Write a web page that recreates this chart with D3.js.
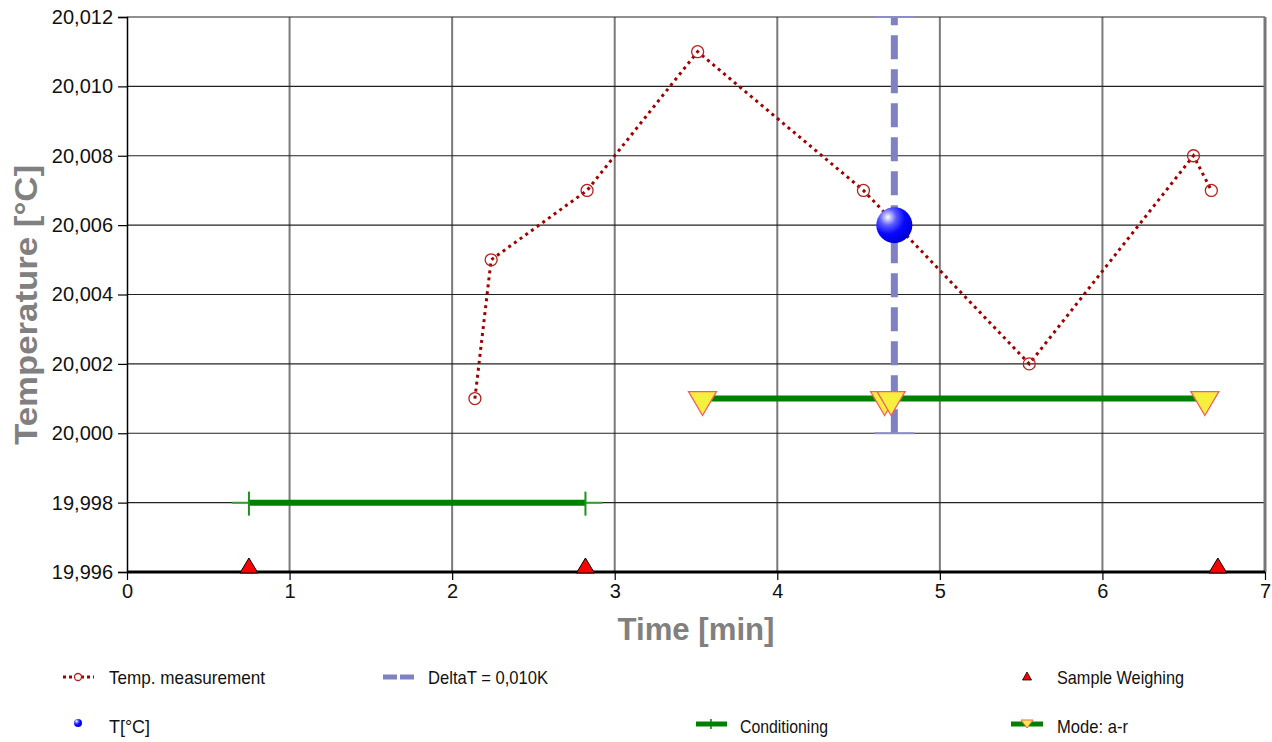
<!DOCTYPE html>
<html><head><meta charset="utf-8">
<script src="https://cdn.jsdelivr.net/npm/d3@7"></script>
<style>body{margin:0;background:#fff}svg{display:block}text{font-family:"Liberation Sans",Arial,sans-serif}</style>
</head><body><svg id="c" width="1272" height="742"></svg>
<script>
const xTicks = [0,1,2,3,4,5,6,7];
const yTicks = [19.996,19.998,20.000,20.002,20.004,20.006,20.008,20.010,20.012];
const tempTime = [2.14,2.24,2.83,3.51,4.53,5.55,6.56,6.67];
const tempVal = [20.001,20.005,20.007,20.011,20.007,20.002,20.008,20.007];
const pointTime = [4.72];
const pointVal = [20.006];
const deltaTime = [4.72,4.72];
const deltaVal = [20.000,20.012];
const condTime = [0.75,2.82];
const condVal = [19.998,19.998];
const modeTime = [3.54,4.66,4.70,6.63];
const modeVal = [20.001,20.001,20.001,20.001];
const weighTime = [0.75,2.82,6.71];
const weighVal = [19.996,19.996,19.996];
const legendLabels = ["Temp. measurement","DeltaT = 0,010K","Sample Weighing","T[°C]","Conditioning","Mode: a-r"];

const svg = d3.select("#c");
const L=127,R=1265,T=17,B=572;
const x = d3.scaleLinear().domain([0,7]).range([L,R]);
const y = d3.scaleLinear().domain([19.996,20.012]).range([B,T]);
const fmt = v => d3.format(".3f")(v).replace(".",",");

const defs = svg.append("defs");
const g1 = defs.append("radialGradient").attr("id","ball").attr("cx","0.32").attr("cy","0.28").attr("r","0.78");
g1.append("stop").attr("offset","0").attr("stop-color","#ffffff");
g1.append("stop").attr("offset","0.3").attr("stop-color","#5a5aff");
g1.append("stop").attr("offset","0.6").attr("stop-color","#0808ff");
g1.append("stop").attr("offset","1").attr("stop-color","#0000d0");

// grid
svg.append("g").selectAll("line").data(xTicks.slice(1,-1)).join("line")
  .attr("x1",d=>x(d)).attr("x2",d=>x(d)).attr("y1",T).attr("y2",B)
  .attr("stroke","#7a7a7a").attr("stroke-width",2);
svg.append("g").selectAll("line").data(yTicks.slice(1)).join("line")
  .attr("x1",L).attr("x2",R).attr("y1",d=>y(d)).attr("y2",d=>y(d))
  .attr("stroke","#222").attr("stroke-width",1.2);
svg.append("line").attr("x1",R).attr("x2",R).attr("y1",T).attr("y2",B).attr("stroke","#777").attr("stroke-width",3);

// axes
const yAxis = d3.axisLeft(y).tickValues(yTicks).tickFormat(fmt).tickSize(9).tickPadding(5);
const ya = svg.append("g").attr("transform",`translate(${L},0)`).call(yAxis);
ya.select(".domain").attr("stroke","#000").attr("stroke-width",1.5);
ya.selectAll(".tick line").attr("stroke","#000").attr("stroke-width",1.2);
ya.selectAll("text").attr("font-size",20).attr("fill","#111").style("font-family","'Liberation Sans',Arial,sans-serif");
const xAxis = d3.axisBottom(x).tickValues(xTicks).tickFormat(d3.format("d")).tickSize(8).tickPadding(4);
const xa = svg.append("g").attr("transform",`translate(0,${B})`).call(xAxis);
xa.select(".domain").remove();
xa.selectAll(".tick line").attr("stroke","#000").attr("stroke-width",1.2);
xa.selectAll("text").attr("font-size",20).attr("fill","#111").style("font-family","'Liberation Sans',Arial,sans-serif");
svg.append("line").attr("x1",L).attr("x2",R).attr("y1",B).attr("y2",B).attr("stroke","#000").attr("stroke-width",3);

// titles
svg.append("text").attr("x",696).attr("y",640).attr("text-anchor","middle")
  .attr("font-size",31).attr("font-weight","bold").attr("fill","#808080")
  .attr("textLength",157).attr("lengthAdjust","spacingAndGlyphs").text("Time [min]");
svg.append("text").attr("transform",`translate(37,305) rotate(-90)`).attr("text-anchor","middle")
  .attr("font-size",31).attr("font-weight","bold").attr("fill","#808080")
  .attr("textLength",280).attr("lengthAdjust","spacingAndGlyphs").text("Temperature [°C]");

// Conditioning
const cond = condTime.map((t,i)=>[t,condVal[i]]);
svg.append("line").attr("x1",x(condTime[0])-17).attr("x2",x(condTime[1])+17)
  .attr("y1",y(19.998)).attr("y2",y(19.998)).attr("stroke","#3a9a3a").attr("stroke-width",2);
svg.append("path").attr("d",d3.line().x(d=>x(d[0])).y(d=>y(d[1]))(cond))
  .attr("stroke","#008000").attr("stroke-width",6).attr("fill","none");
svg.append("g").selectAll("line").data(cond).join("line")
  .attr("x1",d=>x(d[0])).attr("x2",d=>x(d[0])).attr("y1",d=>y(d[1])-11).attr("y2",d=>y(d[1])+13)
  .attr("stroke","#1f8f1f").attr("stroke-width",2);

// Mode a-r
const mode = modeTime.map((t,i)=>[t,modeVal[i]]);
svg.append("path").attr("d",d3.line().x(d=>x(d[0])).y(d=>y(d[1]))([mode[0],mode[mode.length-1]]))
  .attr("stroke","#008000").attr("stroke-width",6).attr("fill","none");

// Delta T
const dX = x(deltaTime[0]);
svg.append("line").attr("x1",dX).attr("x2",dX).attr("y1",y(deltaVal[0])).attr("y2",y(deltaVal[1]))
  .attr("stroke","#8080c4").attr("stroke-width",7).attr("stroke-dasharray","24,10");
svg.append("g").selectAll("line").data(deltaVal).join("line")
  .attr("x1",dX-20).attr("x2",dX+20).attr("y1",d=>y(d)).attr("y2",d=>y(d))
  .attr("stroke","#8c8ccc").attr("stroke-width",2);

// mode triangles
const triDown = (cx,cy)=>`M${cx-14},${cy-9}L${cx+14},${cy-9}L${cx},${cy+15}Z`;
svg.append("g").selectAll("path").data(mode).join("path")
  .attr("d",d=>triDown(x(d[0]),y(d[1])+2)).attr("fill","#f7ef40").attr("stroke","#f06060").attr("stroke-width",1.3);

// Temperature
const temp = tempTime.map((t,i)=>[t,tempVal[i]]);
svg.append("path").attr("d",d3.line().x(d=>x(d[0])).y(d=>y(d[1]))(temp))
  .attr("stroke","#a00000").attr("stroke-width",3).attr("stroke-dasharray","3,4").attr("fill","none");
svg.append("g").selectAll("circle").data(temp).join("circle")
  .attr("cx",d=>x(d[0])).attr("cy",d=>y(d[1])).attr("r",6).attr("fill","none").attr("stroke","#b82020").attr("stroke-width",1.3);

// T ball
svg.append("g").selectAll("circle").data(pointTime.map((t,i)=>[t,pointVal[i]])).join("circle")
  .attr("cx",d=>x(d[0])).attr("cy",d=>y(d[1])).attr("r",18).attr("fill","url(#ball)");

// Sample weighing
const triUp = (cx,cy,w,h)=>`M${cx-w/2},${cy}L${cx+w/2},${cy}L${cx},${cy-h}Z`;
svg.append("g").selectAll("path").data(weighTime.map((t,i)=>[t,weighVal[i]])).join("path")
  .attr("d",d=>triUp(x(d[0]),y(d[1])+1,18,15)).attr("fill","#ff0000").attr("stroke","#000").attr("stroke-width",1);

// Legend
const lg = svg.append("g").attr("font-size",18.5).attr("fill","#111");
const ly1=677, ly2=726;
const addText = (tx,ty,s,w)=>lg.append("text").attr("x",tx).attr("y",ty).attr("textLength",w).attr("lengthAdjust","spacingAndGlyphs").text(s);
lg.append("line").attr("x1",63).attr("x2",94).attr("y1",ly1).attr("y2",ly1).attr("stroke","#a00000").attr("stroke-width",3).attr("stroke-dasharray","3,3");
lg.append("circle").attr("cx",78).attr("cy",ly1).attr("r",3.5).attr("fill","#fff").attr("stroke","#b82020").attr("stroke-width",1.3);
addText(109,ly1+7,legendLabels[0],156);
lg.append("line").attr("x1",383).attr("x2",416).attr("y1",ly1).attr("y2",ly1).attr("stroke","#8080c4").attr("stroke-width",5).attr("stroke-dasharray","14,3");
addText(428,ly1+7,legendLabels[1],120);
lg.append("path").attr("d",triUp(1027,ly1+3,9,8)).attr("fill","#ff0000").attr("stroke","#000").attr("stroke-width",0.8);
addText(1057,ly1+7,legendLabels[2],127);
lg.append("circle").attr("cx",78).attr("cy",ly2-3).attr("r",4).attr("fill","url(#ball)");
addText(109,ly2+7,legendLabels[3],41);
lg.append("line").attr("x1",696).attr("x2",727).attr("y1",ly2-2).attr("y2",ly2-2).attr("stroke","#008000").attr("stroke-width",5);
lg.append("line").attr("x1",711).attr("x2",711).attr("y1",ly2-7).attr("y2",ly2+3).attr("stroke","#008000").attr("stroke-width",1.5);
addText(740,ly2+7,legendLabels[4],88);
lg.append("line").attr("x1",1011).attr("x2",1043).attr("y1",ly2-2).attr("y2",ly2-2).attr("stroke","#008000").attr("stroke-width",5);
lg.append("path").attr("d",`M1021,${ly2-6}L1033,${ly2-6}L1027,${ly2+2}Z`).attr("fill","#f7ef40").attr("stroke","#f06060").attr("stroke-width",1);
addText(1057,ly2+7,legendLabels[5],71);
</script></body></html>
